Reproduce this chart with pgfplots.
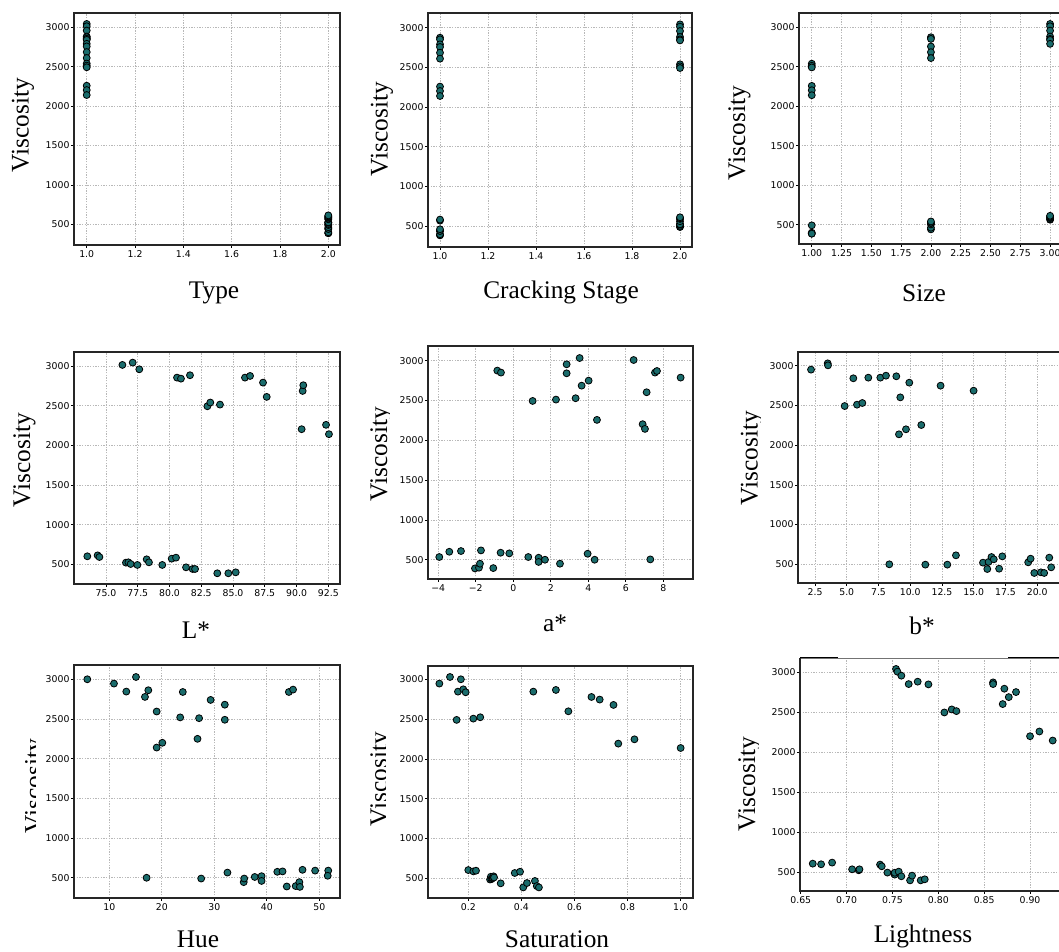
\documentclass[border=0pt]{standalone}
\usepackage{fontspec}
\setmainfont{Liberation Serif}
\newfontfamily\tickfont{DejaVu Sans}
\usepackage{pgfplots}
\pgfplotsset{compat=1.18}
\definecolor{ptcol}{RGB}{26,108,108}
\pgfplotsset{
  panel/.style={
    scale only axis, anchor=south west,
    axis line style={draw=black!85, line width=0.9pt},
    tick align=outside, xtick pos=bottom, ytick pos=left,
    major tick length=2.2pt,
    tick style={draw=black, line width=0.5pt},
    ticklabel style={font=\tickfont\fontsize{7}{8}\selectfont, text=black},
    xticklabel style={inner sep=1.8pt},
    yticklabel style={inner sep=1pt},
    grid=major,
    grid style={draw=black!28, line width=0.5pt, dash pattern=on 1pt off 1pt},
    ytick={500,1000,1500,2000,2500,3000},
    yticklabels={500,1000,1500,2000,2500,3000},
  },
  pts/.style={only marks, mark=*, mark size=2.6pt,
    mark options={draw=black, fill=ptcol, line width=0.6pt}},
}
\tikzset{xlab/.style={anchor=base, font=\fontsize{19}{22}\selectfont, inner sep=0pt},
         ylab/.style={anchor=base, rotate=90, font=\fontsize{19}{22}\selectfont, inner sep=0pt}}

\begin{document}
\begin{tikzpicture}[x=0.75pt, y=0.75pt]
\path[use as bounding box] (0,0) rectangle (1059,952);

% ---------------- row 1 ----------------
\begin{axis}[panel, at={(55.5pt,530.25pt)}, width=199.5pt, height=174pt,
  xmin=0.9474, xmax=2.0484, ymin=237, ymax=3181,
  xtick={1,1.2,1.4,1.6,1.8,2}, xticklabels={1.0,1.2,1.4,1.6,1.8,2.0}]
\addplot[pts] coordinates {
 (1,3042)(1,3013)(1,2958)(1,2883)(1,2874)(1,2853)(1,2853)(1,2840)(1,2790)
 (1,2757)(1,2685)(1,2610)(1,2539)(1,2513)(1,2492)(1,2258)(1,2203)(1,2140)
 (2,387)(2,387)(2,399)(2,441)(2,441)(2,462)(2,492)(2,492)(2,504)
 (2,521)(2,525)(2,525)(2,563)(2,571)(2,584)(2,592)(2,601)(2,613)};
\end{axis}

\begin{axis}[panel, at={(321pt,528.75pt)}, width=198pt, height=175.5pt,
  xmin=0.95, xmax=2.05, ymin=239, ymax=3185,
  xtick={1,1.2,1.4,1.6,1.8,2}, xticklabels={1.0,1.2,1.4,1.6,1.8,2.0}]
\addplot[pts] coordinates {
 (1,2874)(1,2853)(1,2790)(1,2757)(1,2685)(1,2610)(1,2258)(1,2203)(1,2140)
 (1,387)(1,387)(1,399)(1,441)(1,441)(1,462)(1,571)(1,584)
 (2,3042)(2,3013)(2,2958)(2,2883)(2,2853)(2,2840)(2,2539)(2,2513)(2,2492)
 (2,492)(2,492)(2,504)(2,521)(2,525)(2,525)(2,563)(2,592)(2,601)(2,613)};
\end{axis}

\begin{axis}[panel, at={(599.25pt,531pt)}, width=197.25pt, height=173.25pt,
  xmin=0.893, xmax=3.1, ymin=256, ymax=3181,
  xtick={1,1.25,1.5,1.75,2,2.25,2.5,2.75,3},
  xticklabels={1.00,1.25,1.50,1.75,2.00,2.25,2.50,2.75,3.00}]
\addplot[pts] coordinates {
 (1,2539)(1,2513)(1,2492)(1,2258)(1,2203)(1,2140)(1,387)(1,399)(1,492)(1,387)
 (2,2874)(2,2853)(2,2757)(2,2685)(2,2610)(2,441)(2,462)(2,504)(2,521)(2,525)(2,541)
 (3,3042)(3,3013)(3,2958)(3,2883)(3,2853)(3,2840)(3,2790)
 (3,563)(3,571)(3,584)(3,592)(3,601)(3,613)};
\end{axis}

% ---------------- row 2 ----------------
\begin{axis}[panel, at={(55.5pt,276pt)}, width=199.5pt, height=174pt,
  xmin=72.48, xmax=93.42, ymin=252, ymax=3176,
  xtick={75,77.5,80,82.5,85,87.5,90,92.5},
  xticklabels={75.0,77.5,80.0,82.5,85.0,87.5,90.0,92.5}]
\addplot[pts] coordinates {
 (76.29,3013)(77.10,3042)(77.62,2958)(80.59,2853)(80.90,2840)(81.61,2883)
 (82.98,2492)(83.21,2539)(83.97,2513)(85.94,2853)(86.34,2874)(87.36,2790)
 (87.65,2610)(90.40,2203)(90.48,2685)(90.53,2757)(92.32,2258)(92.55,2140)
 (73.53,601)(74.34,613)(74.48,592)(76.57,521)(76.76,525)(76.94,504)
 (77.47,492)(78.20,563)(78.38,525)(79.43,492)(80.17,571)(80.51,584)
 (81.30,462)(81.82,441)(82.01,441)(83.76,387)(84.63,387)(85.21,399)};
\end{axis}

\begin{axis}[panel, at={(321pt,279.75pt)}, width=198.75pt, height=174.75pt,
  xmin=-4.549, xmax=9.584, ymin=258, ymax=3184,
  xtick={-4,-2,0,2,4,6,8}, xticklabels={−4,−2,0,2,4,6,8}]
\addplot[pts] coordinates {
 (-0.853,2875)(-0.658,2850)(1.031,2494)(2.276,2511)(2.844,2954)(2.844,2841)
 (3.324,2528)(3.538,3033)(3.644,2686)(4.018,2749)(4.462,2256)(6.418,3008)
 (6.898,2202)(7.022,2143)(7.111,2603)(7.556,2850)(7.662,2870)(8.924,2787)
 (-3.947,534)(-3.413,600)(-2.791,609)(-2.044,391)(-1.831,400)(-1.778,450)
 (-1.724,617)(-1.067,395)(-0.676,588)(-0.213,580)(0.800,534)(1.351,525)
 (1.351,472)(1.689,500)(2.489,450)(3.964,575)(4.338,500)(7.307,504)};
\end{axis}

\begin{axis}[panel, at={(598.5pt,276.75pt)}, width=200.25pt, height=173.25pt,
  xmin=1.16, xmax=22.19, ymin=265, ymax=3172,
  xtick={2.5,5,7.5,10,12.5,15,17.5,20},
  xticklabels={2.5,5.0,7.5,10.0,12.5,15.0,17.5,20.0}]
\addplot[pts] coordinates {
 (2.185,2950)(3.497,3029)(3.523,3004)(4.835,2492)(5.518,2841)(5.806,2509)
 (6.226,2530)(6.698,2849)(7.643,2849)(8.089,2874)(8.903,2866)(9.112,2136)
 (9.217,2601)(9.663,2199)(9.926,2786)(10.87,2253)(12.39,2748)(14.99,2685)
 (8.351,500)(11.19,496)(12.92,496)(13.60,613)(15.73,521)(16.07,441)
 (16.17,530)(16.40,592)(16.58,563)(17.00,445)(17.25,600)(19.29,525)
 (19.48,571)(19.77,391)(20.29,399)(20.55,391)(20.95,584)(21.10,462)};
\end{axis}

% ---------------- row 3 ----------------
\begin{axis}[panel, at={(55.5pt,40.5pt)}, width=199.5pt, height=174.75pt,
  xmin=3.276, xmax=53.94, ymin=245, ymax=3180,
  xtick={10,20,30,40,50}, xticklabels={10,20,30,40,50}]
\addplot[pts] coordinates {
 (5.81,3000)(10.89,2946)(13.24,2845)(15.08,3029)(16.79,2778)(17.43,2862)
 (19.02,2594)(19.02,2140)(20.10,2200)(23.50,2520)(24.00,2840)(26.80,2250)
 (27.10,2510)(29.30,2740)(32.00,2680)(32.00,2490)(44.20,2840)(45.00,2870)
 (17.10,500)(27.50,490)(32.50,565)(35.60,445)(35.70,490)(37.70,510)
 (39.00,520)(39.00,460)(42.00,575)(43.00,580)(43.80,390)(45.50,395)
 (46.20,445)(46.30,385)(46.80,600)(49.20,590)(51.70,590)(51.60,525)};
\end{axis}

\begin{axis}[panel, at={(321pt,40.5pt)}, width=198.75pt, height=174pt,
  xmin=0.0482, xmax=1.0466, ymin=253, ymax=3167,
  xtick={0.2,0.4,0.6,0.8,1.0}, xticklabels={0.2,0.4,0.6,0.8,1.0}]
\addplot[pts] coordinates {
 (0.091,2946)(0.131,3029)(0.172,3000)(0.161,2845)(0.181,2874)(0.190,2837)
 (0.156,2490)(0.219,2506)(0.245,2523)(0.445,2845)(0.530,2866)(0.577,2598)
 (0.664,2778)(0.695,2745)(0.747,2678)(0.765,2192)(0.826,2246)(1.000,2137)
 (0.200,604)(0.219,587)(0.229,596)(0.282,485)(0.285,520)(0.287,490)
 (0.290,500)(0.292,506)(0.295,525)(0.297,511)(0.322,437)(0.375,567)
 (0.395,583)(0.407,386)(0.421,441)(0.451,467)(0.458,403)(0.466,386)};
\end{axis}

\begin{axis}[panel, at={(600pt,45.75pt)}, width=200.25pt, height=174.75pt,
  xmin=0.6492, xmax=0.9403, ymin=262, ymax=3175,
  xtick={0.65,0.7,0.75,0.8,0.85,0.9},
  xticklabels={0.65,0.70,0.75,0.80,0.85,0.90},
  axis line style={draw=black!55, line width=0.6pt}]
\addplot[pts] coordinates {
 (0.7539,3038)(0.7554,3004)(0.7597,2954)(0.7677,2849)(0.7775,2879)(0.7892,2845)
 (0.8066,2494)(0.8146,2532)(0.8197,2511)(0.8597,2870)(0.8597,2849)(0.8720,2791)
 (0.8702,2599)(0.8768,2686)(0.8847,2749)(0.9000,2197)(0.9102,2256)(0.9247,2143)
 (0.6631,604)(0.6722,596)(0.6842,617)(0.7060,533)(0.7132,521)(0.7140,533)
 (0.7365,592)(0.7383,571)(0.7445,492)(0.7517,479)(0.7525,467)(0.7525,490)
 (0.7568,504)(0.7597,446)(0.7692,395)(0.7714,454)(0.7808,395)(0.7852,408)};
\end{axis}
% the frame of the last panel: dark on left and bottom, two black bars on top
\draw[black!85, line width=0.9pt] (800,294) -- (800,61) -- (1059,61);
\draw[black, line width=1.4pt] (800,294.5) -- (838,294.5) (1008,294.5) -- (1059,294.5);

% ---------------- labels ----------------
\node[xlab] at (214,653) {Type};
\node[xlab] at (561,653) {Cracking Stage};
\node[xlab] at (924,650.3) {Size};
\node[xlab] at (196,313) {L*};
\node[xlab] at (555,320) {a*};
\node[xlab] at (922,317) {b*};
\node[xlab] at (198,4) {Hue};
\node[xlab] at (557,4) {Saturation};
\node[xlab] at (923,9) {Lightness};

\node[ylab] at (28.6,827) {Viscosity};
\begin{scope}\clip (300,700) rectangle (394,950);
\node[ylab] at (387.6,823) {Viscosity};\end{scope}
\node[ylab] at (745,819) {Viscosity};
\node[ylab] at (30.2,492) {Viscosity};
\begin{scope}\clip (300,350) rectangle (389.5,650);
\node[ylab] at (387,498) {Viscosity};\end{scope}
\begin{scope}\clip (700,350) rectangle (760,650);
\node[ylab] at (757.6,494) {Viscosity};\end{scope}
\begin{scope}\clip (0,50) rectangle (35,300);
\node[ylab] at (42,166) {Viscosity};\end{scope}
\begin{scope}\clip (300,50) rectangle (385,300);
\node[ylab] at (387,173) {Viscosity};\end{scope}
\begin{scope}\clip (700,50) rectangle (758,300);
\node[ylab] at (755,168) {Viscosity};\end{scope}
\end{tikzpicture}
\end{document}
